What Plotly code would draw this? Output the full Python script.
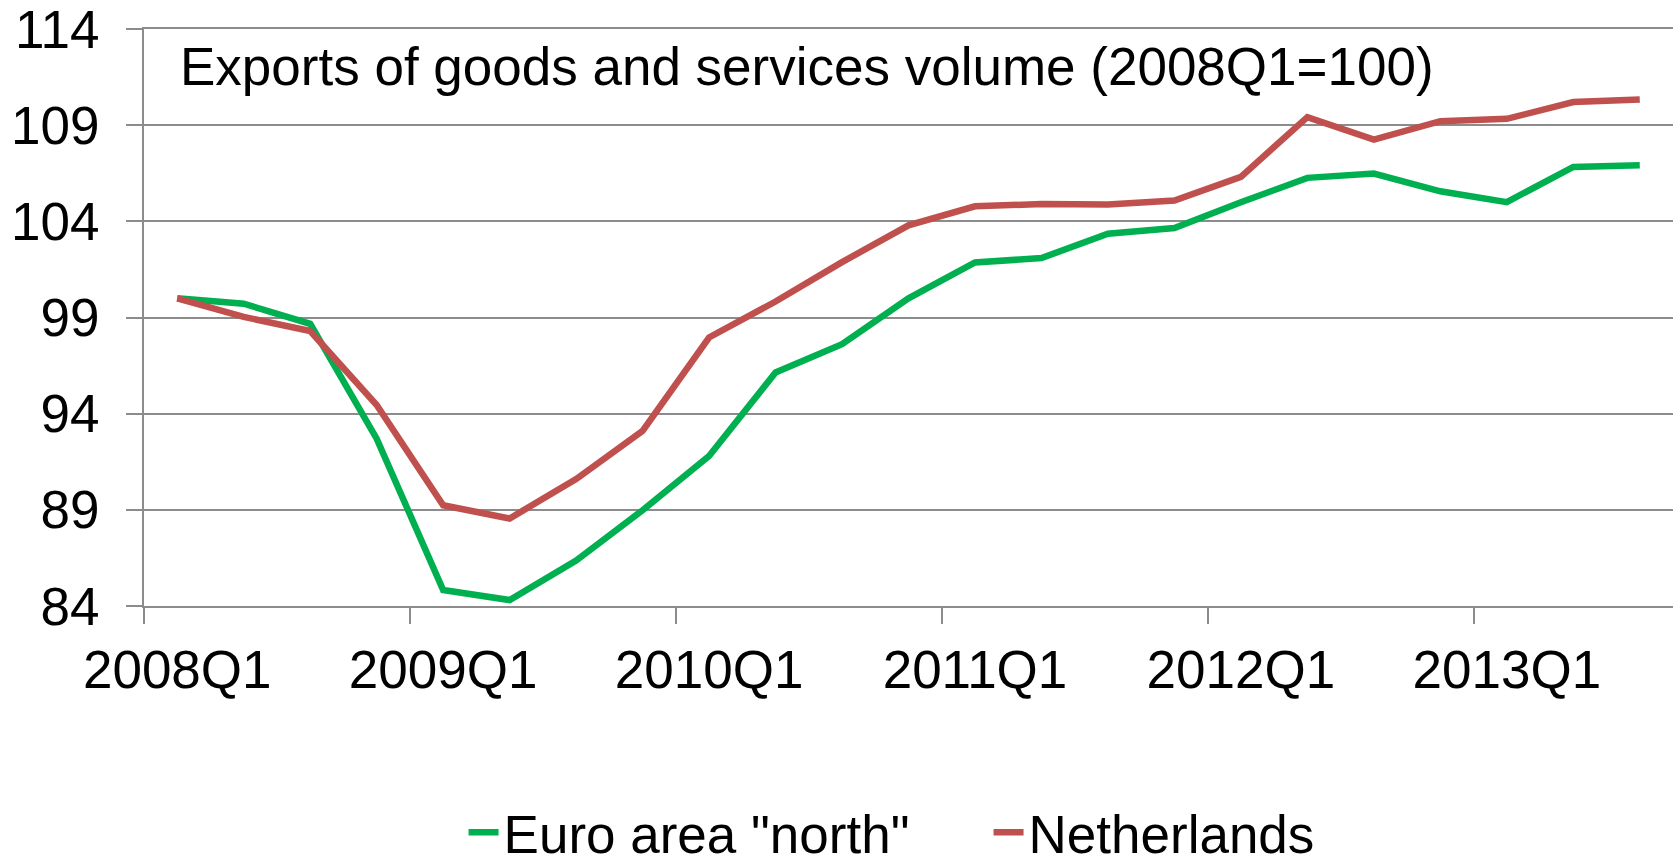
import plotly.graph_objects as go

# Quarterly export volumes, index 2008Q1 = 100
quarters = [
    "2008Q1", "2008Q2", "2008Q3", "2008Q4",
    "2009Q1", "2009Q2", "2009Q3", "2009Q4",
    "2010Q1", "2010Q2", "2010Q3", "2010Q4",
    "2011Q1", "2011Q2", "2011Q3", "2011Q4",
    "2012Q1", "2012Q2", "2012Q3", "2012Q4",
    "2013Q1", "2013Q2", "2013Q3",
]
euro_north = [
    100.0, 99.72, 98.67, 92.7,
    84.83, 84.31, 86.36, 88.98,
    91.8, 96.14, 97.61, 100.0,
    101.86, 102.09, 103.36, 103.65,
    104.99, 106.26, 106.48, 105.56,
    105.0, 106.83, 106.92,
]
netherlands = [
    100.0, 99.03, 98.3, 94.45,
    89.24, 88.55, 90.6, 93.1,
    97.96, 99.83, 101.88, 103.79,
    104.78, 104.9, 104.87, 105.08,
    106.31, 109.42, 108.25, 109.21,
    109.33, 110.2, 110.34,
]
y_ticks = [84, 89, 94, 99, 104, 109, 114]

FONT = "Liberation Sans, Arial, sans-serif"
FS = 53
GRID = "#8c8c8c"

fig = go.Figure()
fig.add_trace(go.Scatter(
    x=quarters, y=euro_north, mode="lines", name='Euro area "north"',
    line=dict(color="#00b050", width=6.5),
))
fig.add_trace(go.Scatter(
    x=quarters, y=netherlands, mode="lines", name="Netherlands",
    line=dict(color="#c0504d", width=6.5),
))

fig.update_layout(
    width=1673, height=863,
    margin=dict(l=144, r=0, t=29, b=257, pad=0, autoexpand=False),
    paper_bgcolor="white", plot_bgcolor="white",
    font=dict(family=FONT, size=FS, color="black"),
    showlegend=True,
    legend=dict(
        orientation="h", x=0.209, xanchor="left", y=-0.392, yanchor="middle",
        font=dict(size=FS), entrywidth=480, entrywidthmode="pixels",
        itemwidth=30, tracegroupgap=0, bgcolor="rgba(0,0,0,0)",
    ),
    annotations=[dict(
        text="Exports of goods and services volume (2008Q1=100)",
        xref="paper", yref="paper", x=(178 - 144) / 1529, y=1 - (66 - 29) / 576.7,
        xanchor="left", yanchor="middle", showarrow=False,
        font=dict(size=FS, color="black"),
    )],
)

# Category axis: ticks on quarter boundaries, a label every fourth quarter;
# the mirrored line closes the top of the plot at 114.
fig.update_xaxes(
    type="category", categoryorder="array", categoryarray=quarters,
    range=[-0.5, len(quarters) - 0.5],
    tickmode="linear", tick0=0, dtick=4, tickson="boundaries", tickangle=0,
    ticks="outside", ticklen=16, tickwidth=1.5, tickcolor=GRID,
    showgrid=False, showline=True, linecolor=GRID, linewidth=2, mirror=True,
    zeroline=False, tickfont=dict(size=FS), ticklabelstandoff=16,
)
fig.update_yaxes(
    range=[84, 114], tickmode="array", tickvals=y_ticks,
    ticks="outside", ticklen=16, tickwidth=1.5, tickcolor=GRID,
    showgrid=True, gridcolor=GRID, gridwidth=2,
    showline=True, linecolor=GRID, linewidth=2,
    zeroline=False, tickfont=dict(size=FS), ticklabelstandoff=16,
    ticklabeloverflow="allow",
)

fig.write_html("out.html")
